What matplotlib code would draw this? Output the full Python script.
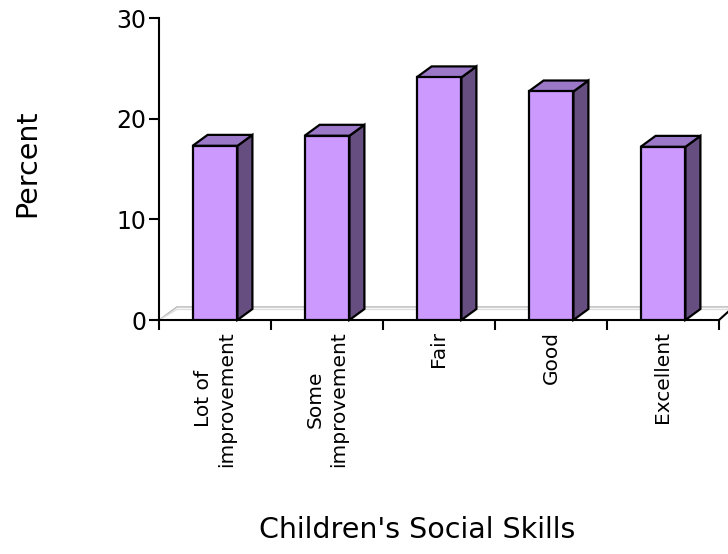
import matplotlib
matplotlib.use("Agg")
import matplotlib.pyplot as plt

plt.rcParams["font.family"] = ["DejaVu Sans"]

categories = ["Lot of\nimprovement", "Some\nimprovement", "Fair", "Good", "Excellent"]
percent = [17.3, 18.3, 24.1, 22.7, 17.2]
y_ticks = [0, 10, 20, 30]

FRONT = "#cc99ff"
SIDE = "#664f80"
TOP = "#9b78c8"
BAR_W = 0.4
DX, DY = 0.134, 1.09        # bar depth offset (x units, percent)
FDX, FDY = 0.16, 1.3        # floor depth offset

W, H = 728, 554
fig = plt.figure(figsize=(W / 100, H / 100), dpi=100)
ax = fig.add_axes([159 / W, (H - 320) / H, (719 - 159) / W, (320 - 18) / H])
ax.set_xlim(-0.5, len(categories) - 0.5)
ax.set_ylim(0, 30)

# floor
x0, x1 = -0.5, len(categories) - 0.5
for off, col in [(0, "#b8b8b8"), (0.25, "#dddddd")]:
    ax.plot([x0, x0 + FDX, x1 + FDX + 0.2], [0, FDY - off, FDY - off],
            color=col, lw=1.0, clip_on=False, zorder=1)
ax.plot([x1, x1 + 0.08], [0, 0.8], color="black", lw=1.5, clip_on=False, zorder=1)

# bars: front face, side and top
xs = range(len(categories))
ax.bar(xs, percent, width=BAR_W, color=FRONT, edgecolor="black", lw=1.6, zorder=3)
for x, v in zip(xs, percent):
    l, r = x - BAR_W / 2, x + BAR_W / 2
    ax.fill([r, r + DX, r + DX, r], [0, DY, v + DY, v],
            facecolor=SIDE, edgecolor="black", lw=1.6, zorder=2, clip_on=False)
    ax.fill([l, l + DX, r + DX, r], [v, v + DY, v + DY, v],
            facecolor=TOP, edgecolor="black", lw=1.6, zorder=2, clip_on=False)

for s in ["top", "right"]:
    ax.spines[s].set_visible(False)
for s in ["left", "bottom"]:
    ax.spines[s].set_linewidth(1.5)

ax.set_yticks(y_ticks)
ax.tick_params(axis="y", length=7, width=1.5, labelsize=17, pad=2)
ax.set_xticks([i - 0.5 for i in range(len(categories) + 1)])
ax.set_xticklabels([])
ax.tick_params(axis="x", length=7, width=1.5, direction="out")

for x, lab in zip(xs, categories):
    ax.text(x, -1.1, lab, rotation=90, ha="center", va="top",
            fontsize=14.5, linespacing=1.3)

fig.text(27 / W, 1 - 163 / H, "Percent", rotation=90, ha="center", va="center",
         fontsize=20.5)
fig.text(417 / W, 1 - 538 / H, "Children's Social Skills", ha="center",
         va="baseline", fontsize=20.5)

fig.savefig("out.png", dpi=100)
